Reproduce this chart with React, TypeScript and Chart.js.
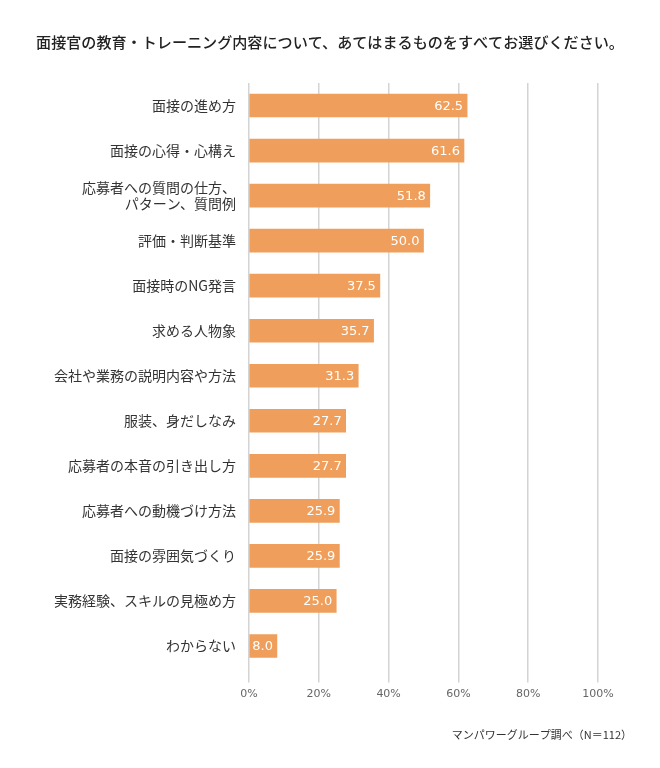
import React, { useEffect, useRef } from "react";
import { Chart, registerables } from "chart.js";

Chart.register(...registerables);

const TITLE = "面接官の教育・トレーニング内容について、あてはまるものをすべてお選びください。";
const SOURCE = "マンパワーグループ調べ（N＝112）";

const categories: (string | string[])[] = [
  "面接の進め方",
  "面接の心得・心構え",
  ["応募者への質問の仕方、", "パターン、質問例"],
  "評価・判断基準",
  "面接時のNG発言",
  "求める人物象",
  "会社や業務の説明内容や方法",
  "服装、身だしなみ",
  "応募者の本音の引き出し方",
  "応募者への動機づけ方法",
  "面接の雰囲気づくり",
  "実務経験、スキルの見極め方",
  "わからない",
];

const values: number[] = [62.5, 61.6, 51.8, 50.0, 37.5, 35.7, 31.3, 27.7, 27.7, 25.9, 25.9, 25.0, 8.0];

const xTicks: number[] = [0, 20, 40, 60, 80, 100];

const JP = '"Noto Sans CJK JP", "Noto Sans", sans-serif';
const NUM = '"DejaVu Sans", Verdana, sans-serif';

const labelPlugin = {
  id: "barLabels",
  afterDatasetsDraw(chart: any) {
    const ctx = chart.ctx;
    const meta = chart.getDatasetMeta(0);
    ctx.save();
    ctx.fillStyle = "#ffffff";
    ctx.font = `13px ${NUM}`;
    ctx.textAlign = "right";
    ctx.textBaseline = "middle";
    meta.data.forEach((bar: any, i: number) => {
      ctx.fillText(values[i].toFixed(1), bar.x - 4, bar.y + 1);
    });
    ctx.restore();
  },
  afterDraw(chart: any) {
    const ctx = chart.ctx;
    ctx.save();
    ctx.fillStyle = "#222";
    ctx.font = `500 15.1px ${JP}`;
    ctx.textAlign = "center";
    ctx.textBaseline = "middle";
    ctx.fillText(TITLE, chart.width / 2, 42);
    ctx.fillStyle = "#333";
    ctx.font = `11px ${JP}`;
    ctx.textAlign = "right";
    ctx.fillText(SOURCE, 632, 735);
    ctx.restore();
  },
};

export default function App() {
  const ref = useRef<HTMLCanvasElement | null>(null);
  useEffect(() => {
    if (!ref.current) return;
    const chart = new Chart(ref.current, {
      type: "bar",
      data: {
        labels: categories,
        datasets: [
          {
            data: values,
            backgroundColor: "#EF9F5B",
            barThickness: 23,
          },
        ],
      },
      options: {
        indexAxis: "y",
        animation: false,
        responsive: false,
        devicePixelRatio: 1,
        layout: { padding: { top: 83, right: 62, bottom: 0, left: 0 } },
        plugins: {
          legend: { display: false },
          tooltip: { enabled: false },
          title: { display: false },
        },
        scales: {
          x: {
            min: 0,
            max: 100,
            afterBuildTicks: (scale: any) => {
              scale.ticks = xTicks.map((v) => ({ value: v }));
            },
            afterFit: (scale: any) => {
              scale.height = 99.5;
            },
            grid: {
              color: "#d4d4d4",
              lineWidth: 1.5,
              drawTicks: true,
              tickLength: 14,
            },
            border: { display: false },
            ticks: {
              padding: 5,
              color: "#666",
              font: { family: NUM, size: 11 },
              callback: (v: any) => `${v}%`,
            },
          },
          y: {
            afterFit: (scale: any) => {
              scale.width = 249;
            },
            grid: { display: false, drawTicks: false },
            border: { display: false },
            ticks: {
              padding: 13,
              color: "#333",
              font: { family: JP, size: 14, lineHeight: 1.2 },
            },
          },
        },
      },
      plugins: [labelPlugin],
    });
    return () => chart.destroy();
  }, []);
  return (
    <div style={{ position: "absolute", left: 0, top: 0, width: 660, height: 768, background: "#fff" }}>
      <canvas ref={ref} width={660} height={768} style={{ width: 660, height: 768 }} />
    </div>
  );
}
